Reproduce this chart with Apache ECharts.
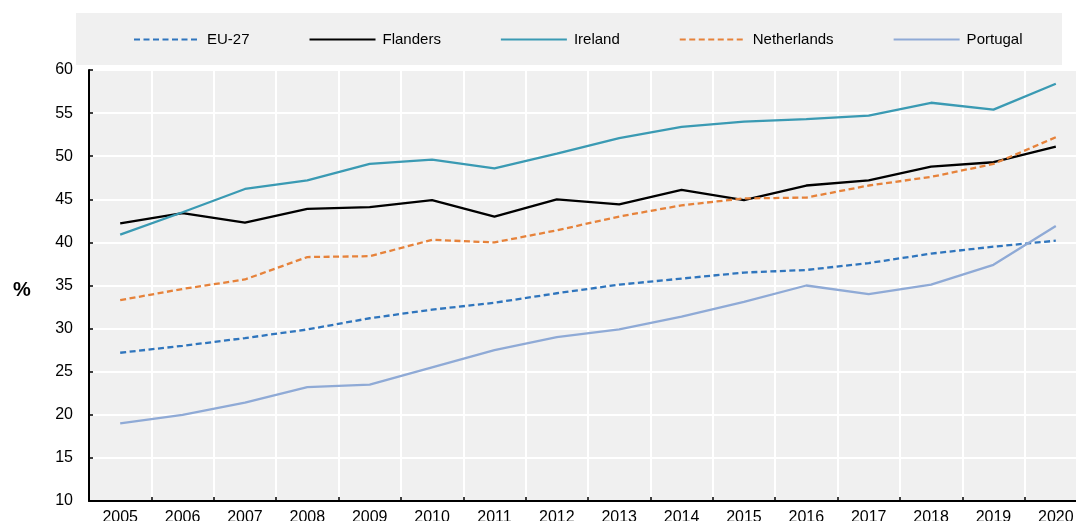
<!DOCTYPE html>
<html>
<head>
<meta charset="utf-8">
<script src="https://cdn.jsdelivr.net/npm/echarts@6/dist/echarts.min.js"></script>
<style>
html,body{margin:0;padding:0;background:#fff;}
#chart{width:1076px;height:521px;}
</style>
</head>
<body>
<div id="chart"></div>
<script>
var years = ['2005','2006','2007','2008','2009','2010','2011','2012','2013','2014','2015','2016','2017','2018','2019','2020'];
var eu27 =        [27.2, 28.0, 28.9, 29.9, 31.2, 32.2, 33.0, 34.1, 35.1, 35.8, 36.5, 36.8, 37.6, 38.7, 39.5, 40.2];
var flanders =    [42.2, 43.4, 42.3, 43.9, 44.1, 44.9, 43.0, 45.0, 44.4, 46.1, 44.9, 46.6, 47.2, 48.8, 49.3, 51.1];
var ireland =     [40.9, 43.5, 46.2, 47.2, 49.1, 49.6, 48.6, 50.3, 52.1, 53.4, 54.0, 54.3, 54.7, 56.2, 55.4, 58.4];
var netherlands = [33.3, 34.6, 35.7, 38.3, 38.4, 40.3, 40.0, 41.4, 43.0, 44.3, 45.1, 45.2, 46.6, 47.6, 49.1, 52.2];
var portugal =    [19.0, 20.0, 21.4, 23.2, 23.5, 25.5, 27.5, 29.0, 29.9, 31.4, 33.1, 35.0, 34.0, 35.1, 37.4, 41.9];
var yTicks = {min: 10, max: 60, interval: 5};
var yUnit = '%';

var FONT = "'Liberation Sans', Arial, sans-serif";

var chart = echarts.init(document.getElementById('chart'), null, {renderer: 'canvas'});

function mk(name, data, color, dashed) {
  return {
    name: name,
    type: 'line',
    data: data,
    symbol: 'none',
    showSymbol: false,
    silent: true,
    animation: false,
    lineStyle: {color: color, width: 2.3, type: dashed ? [6, 3.5] : 'solid'},
    itemStyle: {color: color}
  };
}

chart.setOption({
  animation: false,
  backgroundColor: '#ffffff',
  graphic: [{
    type: 'rect',
    left: 76, top: 13,
    shape: {width: 986, height: 52},
    style: {fill: '#f0f0f0'},
    z: -10
  }, {
    type: 'text',
    x: 22, y: 290,
    style: {
      text: yUnit,
      fill: '#000',
      font: "bold 20px 'Liberation Sans', Arial, sans-serif",
      textAlign: 'center',
      textVerticalAlign: 'middle'
    }
  }],
  legend: {
    left: 133,
    top: 32,
    padding: 0,
    itemWidth: 66,
    itemHeight: 16,
    itemGap: 59,
    itemStyle: {opacity: 0},
    textStyle: {fontFamily: FONT, fontSize: 15, color: '#000', padding: [0, 0, 0, 2]},
    data: ['EU-27', 'Flanders', 'Ireland', 'Netherlands', 'Portugal']
  },
  grid: {
    left: 89, top: 70, right: -11, bottom: 20,
    containLabel: false,
    outerBoundsMode: 'none',
    show: true, backgroundColor: '#f0f0f0', borderWidth: 0
  },
  xAxis: {
    type: 'category',
    data: years,
    boundaryGap: true,
    axisLine: {show: true, lineStyle: {color: '#000', width: 2}},
    axisTick: {show: true, inside: true, length: 4, lineStyle: {color: '#000', width: 1.5}},
    axisLabel: {fontFamily: FONT, fontSize: 16, color: '#000', margin: 9, interval: 0},
    splitLine: {show: true, lineStyle: {color: '#ffffff', width: 2}}
  },
  yAxis: {
    type: 'value',
    min: yTicks.min, max: yTicks.max, interval: yTicks.interval,
    axisLine: {show: true, lineStyle: {color: '#000', width: 2}},
    axisTick: {show: true, inside: true, length: 4, lineStyle: {color: '#000', width: 1.5}},
    axisLabel: {fontFamily: FONT, fontSize: 16, color: '#000', margin: 16},
    splitLine: {show: true, lineStyle: {color: '#ffffff', width: 2}}
  },
  series: [
    mk('EU-27', eu27, '#2f75bd', true),
    mk('Flanders', flanders, '#000000', false),
    mk('Ireland', ireland, '#3a9ab3', false),
    mk('Netherlands', netherlands, '#e6823a', true),
    mk('Portugal', portugal, '#8faad6', false)
  ]
});
</script>
</body>
</html>
